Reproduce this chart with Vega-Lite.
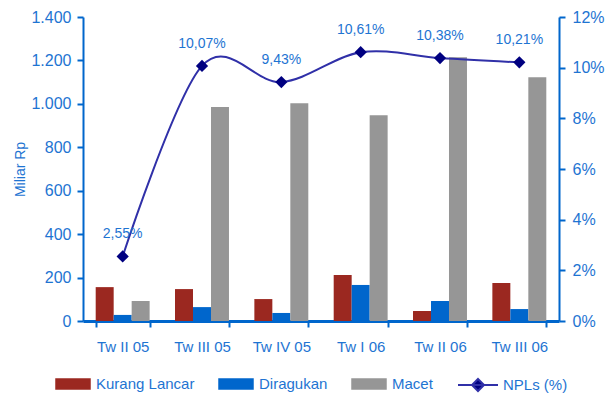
{
  "$schema": "https://vega.github.io/schema/vega-lite/v6.json",
  "width": 476,
  "height": 304,
  "autosize": {"type": "none"},
  "padding": {"left": 83, "top": 17, "right": 46, "bottom": 73},
  "background": "white",
  "config": {
    "locale": {"number": {"decimal": ",", "thousands": ".", "grouping": [3], "currency": ["Rp", ""]}},
    "font": "Liberation Sans",
    "view": {"stroke": null},
    "axis": {"labelFont": "Liberation Sans", "titleFont": "Liberation Sans", "labelColor": "#1E74D2", "titleColor": "#1E74D2", "domainColor": "#0066CC", "tickColor": "#0066CC", "domainWidth": 2, "tickWidth": 2, "labelFontSize": 15, "grid": false}
  },
  "datasets": {
    "bars": [
      {"q": "Tw II 05", "type": "Kurang Lancar", "v": 156},
      {"q": "Tw II 05", "type": "Diragukan", "v": 28},
      {"q": "Tw II 05", "type": "Macet", "v": 92},
      {"q": "Tw III 05", "type": "Kurang Lancar", "v": 147},
      {"q": "Tw III 05", "type": "Diragukan", "v": 64},
      {"q": "Tw III 05", "type": "Macet", "v": 985},
      {"q": "Tw IV 05", "type": "Kurang Lancar", "v": 101},
      {"q": "Tw IV 05", "type": "Diragukan", "v": 37},
      {"q": "Tw IV 05", "type": "Macet", "v": 1003},
      {"q": "Tw I 06", "type": "Kurang Lancar", "v": 212},
      {"q": "Tw I 06", "type": "Diragukan", "v": 166},
      {"q": "Tw I 06", "type": "Macet", "v": 948},
      {"q": "Tw II 06", "type": "Kurang Lancar", "v": 46},
      {"q": "Tw II 06", "type": "Diragukan", "v": 92},
      {"q": "Tw II 06", "type": "Macet", "v": 1215},
      {"q": "Tw III 06", "type": "Kurang Lancar", "v": 175},
      {"q": "Tw III 06", "type": "Diragukan", "v": 55},
      {"q": "Tw III 06", "type": "Macet", "v": 1123}
    ],
    "npl": [
      {"q": "Tw II 05", "s": "NPLs (%)", "npl": 0.0255},
      {"q": "Tw III 05", "s": "NPLs (%)", "npl": 0.1007},
      {"q": "Tw IV 05", "s": "NPLs (%)", "npl": 0.0943},
      {"q": "Tw I 06", "s": "NPLs (%)", "npl": 0.1061},
      {"q": "Tw II 06", "s": "NPLs (%)", "npl": 0.1038},
      {"q": "Tw III 06", "s": "NPLs (%)", "npl": 0.1021}
    ]
  },
  "encoding": {
    "x": {
      "field": "q", "type": "nominal", "sort": null,
      "scale": {"paddingInner": 0.32, "paddingOuter": 0.16},
      "axis": {"title": null, "labelAngle": 0, "tickBand": "extent", "tickSize": 6, "labelPadding": 12, "domainWidth": 3}
    }
  },
  "layer": [
    {
      "data": {"name": "bars"},
      "mark": {"type": "bar"},
      "encoding": {
        "xOffset": {"field": "type", "type": "nominal", "sort": ["Kurang Lancar", "Diragukan", "Macet"], "scale": {"paddingInner": 0, "paddingOuter": 0}},
        "y": {"field": "v", "type": "quantitative",
          "scale": {"domain": [0, 1400], "nice": false},
          "axis": {"title": "Miliar Rp", "titleFontSize": 14, "titleFontWeight": "normal", "titlePadding": 3, "values": [0, 200, 400, 600, 800, 1000, 1200, 1400], "format": ",d", "tickSize": 6, "labelPadding": 6, "labelFontSize": 16}},
        "color": {"field": "type", "type": "nominal", "sort": ["Kurang Lancar", "Diragukan", "Macet"],
          "scale": {"domain": ["Kurang Lancar", "Diragukan", "Macet"], "range": ["#9B2820", "#0066CC", "#969696"]},
          "legend": {"title": null, "orient": "none", "direction": "horizontal", "legendX": -28, "legendY": 349,
            "symbolType": "M-1,-0.32H1V0.32H-1Z", "symbolSize": 1260, "symbolStrokeWidth": 0,
            "labelFontSize": 15, "labelColor": "#1E74D2", "labelFont": "Liberation Sans", "labelOffset": 5, "columnPadding": 23}}
      }
    },
    {
      "data": {"name": "npl"},
      "mark": {"type": "line", "interpolate": "cardinal", "strokeWidth": 2},
      "encoding": {
        "y": {"field": "npl", "type": "quantitative", "scale": {"domain": [0, 0.12], "nice": false},
          "axis": {"orient": "right", "title": null, "values": [0, 0.02, 0.04, 0.06, 0.08, 0.1, 0.12], "format": ".0%", "tickSize": 6, "labelPadding": 7, "labelFontSize": 16}},
        "stroke": {"field": "s", "type": "nominal", "scale": {"range": ["#3030A8"]},
          "legend": {"title": null, "orient": "none", "legendX": 374, "legendY": 347,
            "symbolType": "M-1,0H1M0,-0.3L0.3,0L0,0.3L-0.3,0Z", "symbolSize": 1600, "symbolStrokeWidth": 2, "symbolFillColor": "#000080",
            "labelFontSize": 15, "labelColor": "#1E74D2", "labelFont": "Liberation Sans", "labelOffset": 4}}
      }
    },
    {
      "data": {"name": "npl"},
      "mark": {"type": "point", "shape": "diamond", "filled": true, "color": "#000080", "size": 150, "opacity": 1},
      "encoding": {
        "y": {"field": "npl", "type": "quantitative", "scale": {"domain": [0, 0.12], "nice": false}, "axis": null}
      }
    },
    {
      "data": {"name": "npl"},
      "mark": {"type": "text", "dy": -22, "fontSize": 14, "color": "#1E74D2", "font": "Liberation Sans"},
      "encoding": {
        "y": {"field": "npl", "type": "quantitative", "scale": {"domain": [0, 0.12], "nice": false}, "axis": null},
        "text": {"field": "npl", "type": "quantitative", "format": ".2%"}
      }
    }
  ],
  "resolve": {"scale": {"y": "independent"}}
}
